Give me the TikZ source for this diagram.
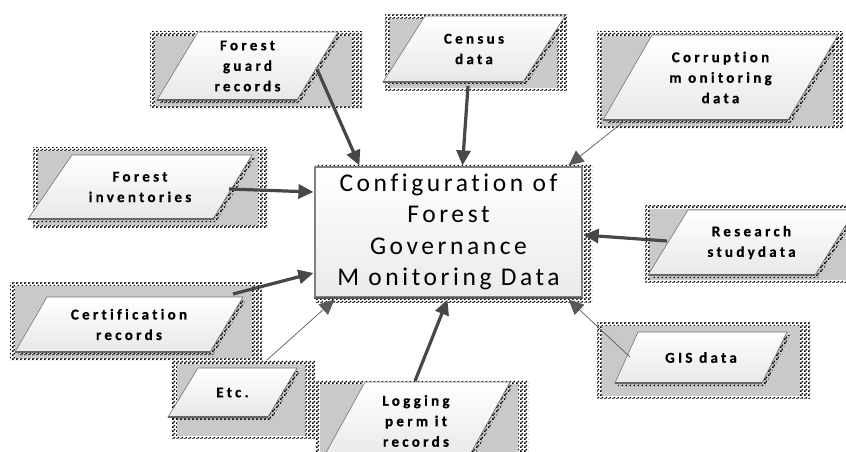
\documentclass[tikz,border=0pt]{standalone}
\usepackage{fontspec}
\setmainfont{Carlito}
\newfontfamily\labelfont[LetterSpace=22, Ligatures=NoCommon, FakeBold=0.6]{Carlito Bold}
\newfontfamily\titlefont[LetterSpace=14, Ligatures=NoCommon]{Carlito}
\usepackage{tikz}
\usetikzlibrary{arrows.meta, calc, patterns}

\pgfdeclarepatternformonly{dither}{\pgfpointorigin}{\pgfqpoint{4pt}{4pt}}{\pgfqpoint{4pt}{4pt}}{%
  \pgfpathrectangle{\pgfpointorigin}{\pgfqpoint{2pt}{2pt}}%
  \pgfpathrectangle{\pgfqpoint{2pt}{2pt}}{\pgfqpoint{2pt}{2pt}}%
  \pgfusepath{fill}}

% input box: name, outer corners, parallelogram corners, text
\newcommand{\databox}[8]{%
  \fill[checker] (#2) rectangle (#3);
  \fill[boxgray] ($(#2)+(5,4)$) rectangle ($(#3)+(-10,-2)$);
  \fill[checker, shift={(3,3)}] (#4) -- (#5) -- (#6) -- (#7) -- cycle;
  \draw[para] (#4) -- (#5) -- (#6) -- (#7) -- cycle;
  \draw[paraedge] (#4) -- (#7);
  \node[boxtext] (#1) at ($(#4)!0.5!(#6)$) {#8};
}

\begin{document}
\begin{tikzpicture}
  [x=1pt, y=-1pt,
   checker/.style={pattern=dither, pattern color=black},
   boxgray/.style={fill=black!21},
   para/.style={draw=black!55, line width=0.6pt, top color=white, bottom color=black!9},
   paraedge/.style={draw=black!60, line width=1.2pt},
   boxtext/.style={align=center, font=\labelfont\fontsize{15}{20.5}\selectfont, inner sep=0pt},
   mainbox/.style={draw=black!50, line width=1.2pt, top color=white, bottom color=black!8,
     minimum width=267pt, minimum height=130pt, align=center, inner sep=0pt,
     font=\titlefont\fontsize{25.5}{31.5}\selectfont},
   link/.style={-{Triangle[length=15pt,width=14pt]}, line width=3.2pt, draw=black!72},
   thinlink/.style={-{Triangle[length=15pt,width=14pt]}, line width=0.7pt, draw=black!65}]
  \useasboundingbox (0,0) rectangle (846,452);

  \databox{guard}{150,32}{362,108}{157,100}{198,32}{338,32}{297,100}{Forest\\guard\\records}
  \databox{census}{385,15}{567,90}{383,82}{425,16}{565,16}{523,82}{Census\\data}
  \databox{corrupt}{597,32}{843,128}{603,120}{652,35}{838,35}{788,120}{Corruption\\m onitoring\\data}
  \databox{invent}{33,147}{268,227}{28,219}{72,155}{252,155}{213,219}{Forest\\inventories}
  \databox{research}{645,205}{860,282}{648,275}{688,210}{855,210}{815,275}{Research\\studydata}
  \databox{gis}{597,322}{810,398}{615,383}{638,332}{787,332}{762,383}{GIS data}
  \databox{cert}{10,282}{262,360}{15,352}{47,297}{243,297}{210,352}{Certification\\records}
  \databox{etc}{172,360}{315,438}{168,417}{198,368}{297,368}{268,417}{Etc.}
  \databox{logging}{315,380}{528,470}{322,460}{365,382}{510,382}{467,460}{Logging\\perm it\\records}

  % centre box
  \fill[checker] (315,164) rectangle (592,302);
  \node[mainbox] (main) at (448.5,232) {Configuration of\\Forest\\Governance\\M onitoring Data};
  \draw[draw=black!65, line width=1.8pt] (main.south west) -- (main.south east);

  % arrow starts
  \coordinate (guard-out) at (317,69);
  \coordinate (census-out) at (468,86);
  \coordinate (corrupt-out) at (623,122);
  \coordinate (invent-out) at (229,189);
  \coordinate (research-out) at (667,241);
  \coordinate (cert-out) at (233,294);
  \coordinate (etc-out) at (267,360);
  \coordinate (logging-out) at (415,381);
  \coordinate (gis-out) at (630,357);

  \draw[link] (guard-out) -- ($(main.north west)+(45,-1)$);
  \draw[link] (census-out) -- ($(main.north)+(14,-1)$);
  \draw[thinlink] (corrupt-out) -- ($(main.north east)+(-14,-1)$);
  \draw[link] (invent-out) -- ($(main.west)+(-1,-40)$);
  \draw[link] (research-out) -- ($(main.east)+(1,3)$);
  \draw[link] (cert-out) -- ($(main.west)+(-1,41)$);
  \draw[thinlink] (etc-out) -- ($(main.south west)+(20,2)$);
  \draw[link] (logging-out) -- ($(main.south)+(-1,2)$);
  \draw[thinlink] (gis-out) -- ($(main.south east)+(-14,2)$);
\end{tikzpicture}
\end{document}
